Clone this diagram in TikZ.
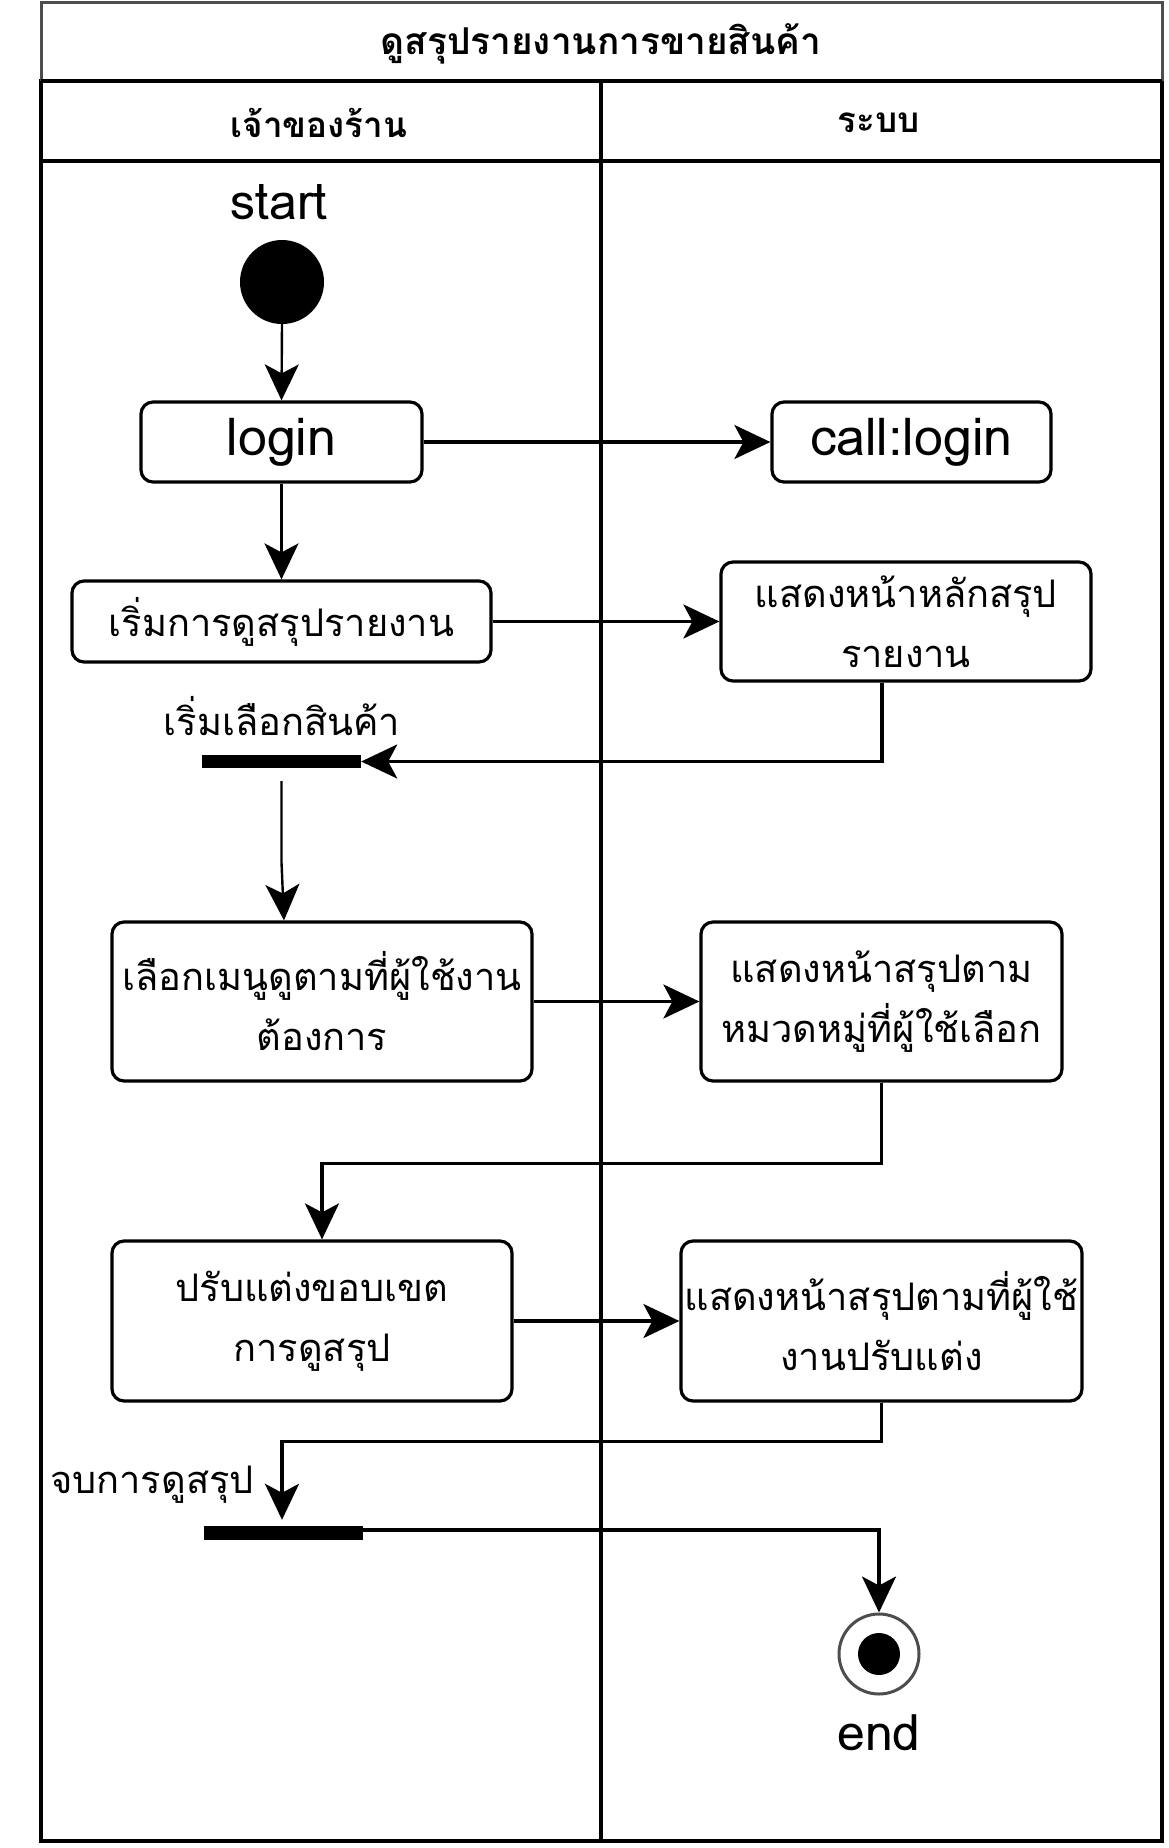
\documentclass[tikz,border=0pt]{standalone}
\usepackage{fontspec}
\setmainfont[Script=Thai]{Loma}
\usetikzlibrary{arrows.meta}
\definecolor{framegray}{HTML}{4D4D4D}
\tikzset{
  act/.style={draw, line width=3.2pt, rounded corners=12pt, align=center, inner sep=1pt, font=\fontsize{38}{60}\selectfont},
  syncbar/.style={fill=black, draw=none, inner sep=0pt},
  conn/.style={line width=3.2pt, -{Stealth[length=36pt,width=34pt,inset=9pt]}},
  thinconn/.style={line width=2.4pt, -{Stealth[length=36pt,width=34pt,inset=9pt]}},
  lbl/.style={inner sep=0pt, font=\fontsize{38}{42}\selectfont},
  bigtxt/.style={font=\fontsize{52}{56}\selectfont},
  hdr/.style={inner sep=0pt, font=\bfseries\fontsize{35}{38}\selectfont}
}
\begin{document}
\begin{tikzpicture}[x=1pt,y=-1pt]
\useasboundingbox (0,0) rectangle (1168,1848);
% swimlane frame
\draw[line width=3.2pt] (41,81) rectangle (1162,1841);
\draw[line width=3.2pt] (41,161) -- (1162,161);
\draw[line width=3.2pt] (601,81) -- (601,1841);
\draw[line width=3pt, draw=framegray] (41,81) -- (41,2) -- (1162,2) -- (1162,81);
\draw[line width=3.2pt] (41,81) -- (1162,81);
\node[hdr, font=\bfseries\fontsize{37}{40}\selectfont] (title) at (601,44) {ดูสรุปรายงานการขายสินค้า};
\node[hdr] (lane1) at (319,123) {เจ้าของร้าน};
\node[hdr] (lane2) at (879,123) {ระบบ};

% start
\node[lbl, font=\fontsize{50}{54}\selectfont] (startlbl) at (279,202) {start};
\node[circle, fill=black, minimum size=84pt, inner sep=0pt] (start) at (282,282) {};

% activities
\node[act, minimum width=281pt, minimum height=80pt, bigtxt] (login) at (281.5,442) {login};
\node[act, minimum width=279pt, minimum height=80pt, bigtxt] (calllogin) at (911.5,442) {call:login};
\node[act, minimum width=419pt, minimum height=81pt] (s1) at (281.5,621.5) {เริ่มการดูสรุปรายงาน};
\node[act, minimum width=370pt, minimum height=119pt] (sys1) at (906,621.5) {แสดงหน้าหลักสรุป\\รายงาน};
\node[lbl] (bar1lbl) at (282,716) {เริ่มเลือกสินค้า};
\node[syncbar, minimum width=159pt, minimum height=13pt] (bar1) at (281.5,761.5) {};
\node[act, minimum width=420pt, minimum height=159pt] (u2) at (322,1001.5) {เลือกเมนูดูตามที่ผู้ใช้งาน\\ต้องการ};
\node[act, minimum width=361pt, minimum height=159pt] (sys2) at (881.5,1001.5) {แสดงหน้าสรุปตาม\\หมวดหมู่ที่ผู้ใช้เลือก};
\node[act, minimum width=400pt, minimum height=160pt] (u3) at (312,1321) {ปรับแต่งขอบเขต\\การดูสรุป};
\node[act, minimum width=401pt, minimum height=160pt] (sys3) at (881.5,1321) {แสดงหน้าสรุปตามที่ผู้ใช้\\งานปรับแต่ง};
\node[lbl, anchor=east] (bar2lbl) at (254,1485) {จบการดูสรุป};
\node[syncbar, minimum width=159pt, minimum height=14pt] (bar2) at (283.5,1533) {};

% end
\node[circle, draw=framegray, line width=3pt, fill=white, minimum size=80pt, inner sep=0pt] (endnode) at (879,1654) {};
\node[circle, fill=black, minimum size=42pt, inner sep=0pt] (enddot) at (endnode.center) {};
\node[lbl, font=\fontsize{50}{54}\selectfont] (endlbl) at (879,1733) {end};

% connectors
\draw[thinconn] (start.south) -- (login.north);
\draw[conn] (login.east) -- (calllogin.west);
\draw[thinconn] (login.south) -- (s1.north);
\draw[conn] (s1.east) -- (sys1.west);
\draw[conn] ([xshift=-24pt]sys1.south) |- (bar1.east);
\coordinate (b1out) at ([yshift=-13pt]bar1.south);
\draw[thinconn] (b1out) -- ++(0,81) -- ([xshift=-38pt]u2.north);
\draw[conn] (u2.east) -- (sys2.west);
\draw[conn] (sys2.south) -- ++(0,81) -| ([xshift=10pt]u3.north);
\draw[conn] (u3.east) -- (sys3.west);
\draw[conn] (sys3.south) -- ++(0,39) -| ([yshift=6pt,xshift=-1.5pt]bar2.north);
\draw[conn] ([yshift=3pt]bar2.east) -| (endnode.north);
\end{tikzpicture}
\end{document}
